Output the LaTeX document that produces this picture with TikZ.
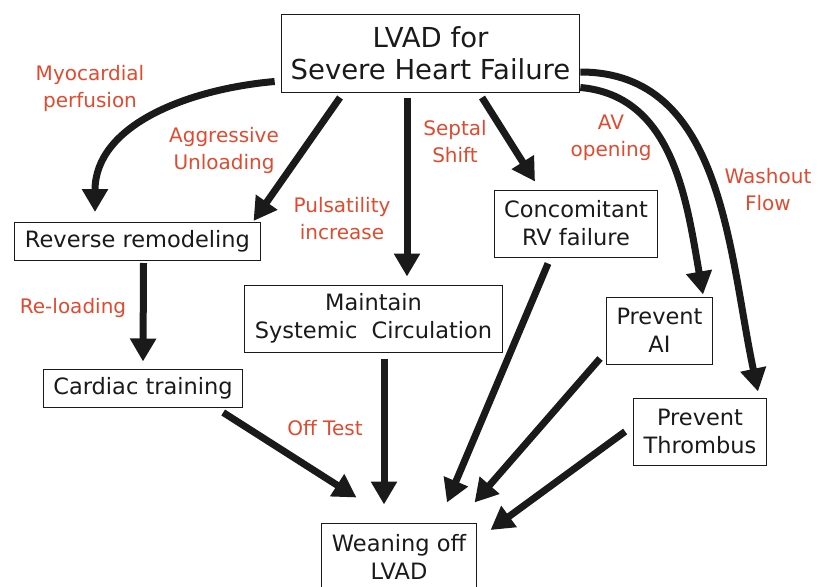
\documentclass[tikz,border=0pt]{standalone}
\usepackage{fontspec}
\setmainfont{DejaVu Sans}
\usepackage{xcolor}
\usetikzlibrary{arrows.meta}
\definecolor{ink}{HTML}{1A1A1A}
\definecolor{note}{HTML}{E04A2F}
\tikzset{
  box/.style={draw=ink, line width=1pt, text=ink, align=center, font=\fontsize{22.5}{28}\selectfont,
    inner xsep=10pt, inner ysep=4pt, minimum height=38pt},
  twobox/.style={box, minimum height=67pt},
  topbox/.style={box, font=\fontsize{27.5}{32}\selectfont, inner xsep=9.5pt, minimum height=77pt},
  arr/.style={draw=ink, line width=7pt, -{Triangle[length=23pt,width=25pt]}},
  lab/.style={text=note, align=center, font=\fontsize{20}{27}\selectfont},
}

\begin{document}
\begin{tikzpicture}[x=1pt,y=1pt]
  \useasboundingbox (0,0) rectangle (818,-586);
  % boxes
  \node[topbox] (lvad) at (430.5,-53.5) {LVAD for\\Severe Heart Failure};
  \node[box] (rev) at (137.5,-241.5) {Reverse remodeling};
  \node[box] (card) at (143,-388) {Cardiac training};
  \node[twobox] (maint) at (373.5,-318.5) {Maintain\\Systemic\ \ Circulation};
  \node[twobox] (conc) at (576,-223.5) {Concomitant\\RV failure};
  \node[twobox] (pai) at (659.5,-330.5) {Prevent\\AI};
  \node[twobox] (pthr) at (700,-431.5) {Prevent\\Thrombus};
  \node[twobox] (wean) at (399,-557) {Weaning off\\LVAD};
  % red notes
  \node[lab] (myo) at (90,-88) {Myocardial\\perfusion};
  \node[lab] (agg) at (224,-150) {Aggressive\\Unloading};
  \node[lab] (puls) at (342,-219) {Pulsatility\\increase};
  \node[lab] (sept) at (455,-142) {Septal\\Shift};
  \node[lab] (av) at (611,-138) {AV\\opening};
  \node[lab] (wash) at (768,-190) {Washout\\Flow};
  \node[lab] (reload) at (73,-308) {Re-loading};
  \node[lab] (off) at (325,-428) {Off Test};
  % from the LVAD
  \draw[arr] ([xshift=-6pt,yshift=11pt]lvad.south west) to[out=185,in=90] ([xshift=-42.5pt,yshift=10pt]rev.north);
  \draw[arr] ([xshift=-90.5pt,yshift=-5pt]lvad.south) -- ([xshift=-7pt,yshift=1pt]rev.north east);
  \draw[arr] ([xshift=-23.5pt,yshift=-5pt]lvad.south) -- ([xshift=-23.5pt,yshift=8pt]lvad.south |- maint.north);
  \draw[arr] ([xshift=51.5pt,yshift=-5pt]lvad.south) -- ([xshift=-41pt,yshift=8pt]conc.north);
  \draw[arr] ([yshift=-34pt]lvad.east) to[out=-5,in=100] ([xshift=43.5pt,yshift=2pt]pai.north);
  \draw[arr] ([yshift=-18.5pt]lvad.east) to[out=0,in=102] ([xshift=58pt,yshift=6pt]pthr.north);
  % down to weaning
  \draw[arr] ([xshift=6pt,yshift=-2pt]rev.south) -- ([yshift=7pt]card.north);
  \draw[arr] ([xshift=-20pt,yshift=-5pt]card.south east) -- ([xshift=35pt,yshift=25.5pt]wean.north west);
  \draw[arr] ([xshift=10.5pt,yshift=-6pt]maint.south) -- ([xshift=-15pt,yshift=18.5pt]wean.north);
  \draw[arr] ([xshift=-28pt,yshift=-6pt]conc.south) -- ([xshift=48pt,yshift=20.5pt]wean.north);
  \draw[arr] ([xshift=-6pt,yshift=6pt]pai.south west) -- ([xshift=-2pt,yshift=20.5pt]wean.north east);
  \draw[arr] ([xshift=-8pt]pthr.west) -- ([xshift=14pt,yshift=27pt]wean.east);
\end{tikzpicture}
\end{document}
